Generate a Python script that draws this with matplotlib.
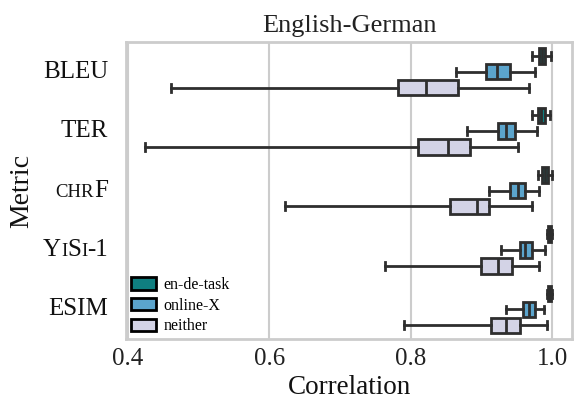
import numpy as np
import matplotlib
matplotlib.use("Agg")
import matplotlib.pyplot as plt
from matplotlib.patches import Patch
from matplotlib.offsetbox import TextArea, HPacker, AnnotationBbox

plt.rcParams['font.family'] = ['Liberation Serif', 'DejaVu Serif']

metrics = ['BLEU', 'TER', 'chrF', 'YiSi-1', 'ESIM']
groups = ['en-de-task', 'online-X', 'neither']
colors = ['#0f7f80', '#5ba4cc', '#d3d3e6']

# stats per group, per metric: whisker low, q1, median, q3, whisker high
task_lo  = [0.972, 0.972, 0.980, 0.992, 0.992]
task_q1  = [0.981, 0.980, 0.986, 0.994, 0.994]
task_med = [0.986, 0.984, 0.990, 0.996, 0.996]
task_q3  = [0.990, 0.990, 0.994, 0.998, 0.998]
task_hi  = [0.998, 0.997, 0.999, 0.9995, 0.9995]

onl_lo  = [0.864, 0.880, 0.910, 0.927, 0.934]
onl_q1  = [0.907, 0.923, 0.940, 0.954, 0.958]
onl_med = [0.922, 0.935, 0.951, 0.962, 0.967]
onl_q3  = [0.940, 0.948, 0.962, 0.971, 0.975]
onl_hi  = [0.976, 0.979, 0.981, 0.990, 0.988]

nei_lo  = [0.461, 0.425, 0.622, 0.764, 0.791]
nei_q1  = [0.782, 0.811, 0.856, 0.900, 0.914]
nei_med = [0.822, 0.853, 0.893, 0.923, 0.934]
nei_q3  = [0.867, 0.884, 0.911, 0.943, 0.954]
nei_hi  = [0.967, 0.951, 0.971, 0.982, 0.993]

table = [
    (task_lo, task_q1, task_med, task_q3, task_hi),
    (onl_lo, onl_q1, onl_med, onl_q3, onl_hi),
    (nei_lo, nei_q1, nei_med, nei_q3, nei_hi),
]

fig, ax = plt.subplots(figsize=(5.79, 4.0), dpi=100)
fig.subplots_adjust(left=0.218, right=0.988, top=0.895, bottom=0.152)

edge = '#2e2e2e'
w = 0.8 / 3
for g, (lo, q1, med, q3, hi) in enumerate(table):
    stats = [dict(whislo=lo[i], q1=q1[i], med=med[i], q3=q3[i], whishi=hi[i], fliers=[])
             for i in range(len(metrics))]
    pos = np.arange(len(metrics)) + (g - 1) * w
    ax.bxp(stats, positions=pos, widths=w * 0.98, vert=False, patch_artist=True,
           showfliers=False,
           boxprops=dict(facecolor=colors[g], edgecolor=edge, linewidth=2),
           medianprops=dict(color=edge, linewidth=2),
           whiskerprops=dict(color=edge, linewidth=2),
           capprops=dict(color=edge, linewidth=2),
           capwidths=w * 0.5)

ax.set_ylim(len(metrics) - 0.5, -0.5)
ax.set_xlim(0.398, 1.028)
ax.set_xticks([0.4, 0.6, 0.8, 1.0])
ax.set_xticklabels(['0.4', '0.6', '0.8', '1.0'], fontsize=18, color='#222222')
ax.set_yticks(range(len(metrics)))
ax.set_yticklabels([''] * len(metrics))
ax.tick_params(length=0, pad=6)
ax.grid(axis='x', color='#cccccc', linewidth=1.5)
ax.set_axisbelow(True)
for s in ax.spines.values():
    s.set_color('#cccccc')
    s.set_linewidth(2)

# small caps style labels
big, small = 18, 13.5
label_parts = [
    [('BLEU', big)],
    [('TER', big)],
    [('CHR', small), ('F', big)],
    [('Y', big), ('I', small), ('S', big), ('I', small), ('-1', big)],
    [('ESIM', big)],
]
for i, parts in enumerate(label_parts):
    boxes = [TextArea(t, textprops=dict(fontsize=sz, color='#111111')) for t, sz in parts]
    pack = HPacker(children=boxes, align='baseline', pad=0, sep=0)
    ab = AnnotationBbox(pack, (0, i), xycoords=('axes fraction', 'data'),
                        xybox=(-13, 0), boxcoords='offset points',
                        box_alignment=(1, 0.5), frameon=False, annotation_clip=False)
    ax.add_artist(ab)

ax.set_xlabel('Correlation', fontsize=19.5, labelpad=4, color='#111111')
ax.set_ylabel('Metric', fontsize=20, labelpad=60, color='#111111')
ax.set_title('English-German', fontsize=19, pad=7, color='#222222')

handles = [Patch(facecolor=c, edgecolor='black', linewidth=2) for c in colors]
ax.legend(handles, groups, loc='lower left', frameon=False, fontsize=11.5,
          handlelength=1.55, handleheight=0.85, handletextpad=0.5,
          labelspacing=0.3, borderpad=0.2, borderaxespad=0.1)

fig.savefig('out.png', dpi=100)
